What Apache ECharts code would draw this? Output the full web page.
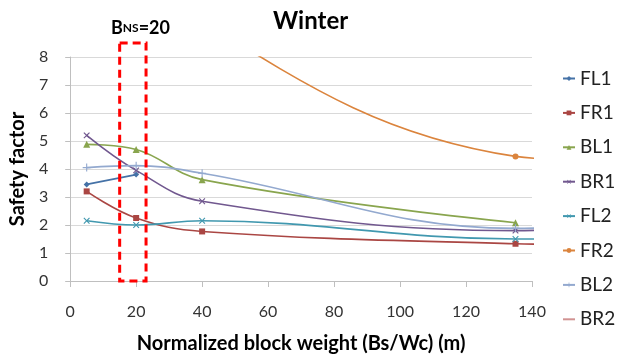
<!DOCTYPE html>
<html><head><meta charset="utf-8">
<script src="https://cdn.jsdelivr.net/npm/echarts@6/dist/echarts.min.js"></script>
<style>html,body{margin:0;padding:0;background:#fff}#c{width:621px;height:359px}</style>
</head><body><div id="c"></div>
<script>
var xValues = [5, 20, 40, 135, 150];
var FL1 = [3.45, 3.8, null, null, null];
var FR1 = [3.2, 2.25, 1.77, 1.33, 1.31];
var BL1 = [4.88, 4.7, 3.62, 2.08, null];
var BR1 = [5.2, 3.95, 2.85, 1.8, 1.84];
var FL2 = [2.15, 2.0, 2.15, 1.5, 1.5];
var FR2 = [17, 13, 9.3, 4.45, 4.35];
var BL2 = [4.05, 4.12, 3.85, 1.88, 1.93];
var BR2 = [null, null, null, null, null];
var seriesNames = ['FL1','FR1','BL1','BR1','FL2','FR2','BL2','BR2'];
var bnsBox = [15, 23, 0, 8.5]; // x0, x1, y0, y1 in data units

var FONT = 'Lato';
var colors = ['#4572A7','#AA4643','#89A54E','#71588F','#4198AF','#DB843D','#93A9CF','#D19392'];
var plusPath = 'path://M4.3,0H5.7V4.3H10V5.7H5.7V10H4.3V5.7H0V4.3H4.3Z';
var symbols = ['diamond','rect','triangle',plusPath,plusPath,'circle',plusPath,'circle'];
var rot = [0,0,0,45,45,0,0,0];
var sizes = [6,6,7,8,8,6,8,0];
var all = [FL1,FR1,BL1,BR1,FL2,FR2,BL2,BR2];

function pairs(arr){ var out=[]; for(var i=0;i<xValues.length;i++){ if(arr[i]!==null) out.push([xValues[i],arr[i]]);} return out; }

var series = seriesNames.map(function(n,i){
  return {name:n, type:'line', data:pairs(all[i]), smooth:0.4, clip:true,
    symbol:symbols[i], symbolSize:sizes[i], symbolRotate:rot[i], showSymbol:true,
    lineStyle:{width:1.6,color:colors[i]},
    itemStyle:{color: n==='BR2' ? 'rgba(0,0,0,0)' : colors[i]}};
});

var chart = echarts.init(document.getElementById('c'));
chart.setOption({
  animation:false,
  color:colors,
  title:[
    {text:'Winter', left:268, top:4, textStyle:{fontFamily:FONT,fontSize:24,fontWeight:'bold',color:'#000'}},
    {text:'{a|B}{b|NS}{a|=20}', left:106, top:14, textStyle:{rich:{
      a:{fontFamily:FONT,fontSize:18,fontWeight:'bold',color:'#000'},
      b:{fontFamily:FONT,fontSize:12,fontWeight:'bold',color:'#000'}}}}
  ],
  legend:{orient:'vertical', left:557, top:64, itemWidth:12, itemHeight:6, itemGap:15.4,
    textStyle:{fontFamily:FONT,fontSize:19,color:'#222'},
    data:seriesNames},
  grid:{left:68,right:89,top:57,bottom:78},
  xAxis:{type:'value',min:0,max:140,interval:20,
    name:'Normalized block weight (Bs/Wc) (m)',nameLocation:'middle',nameGap:53,
    nameTextStyle:{fontFamily:FONT,fontSize:20,fontWeight:'bold',color:'#000'},
    axisLine:{lineStyle:{color:'#bfbfbf',width:1}},
    axisTick:{show:true,length:6,lineStyle:{color:'#bfbfbf'}},
    axisLabel:{fontFamily:FONT,fontSize:16,color:'#333',margin:23},
    splitLine:{show:false}},
  yAxis:{type:'value',min:0,max:8,interval:1,
    name:'Safety factor',nameLocation:'middle',nameGap:35,
    nameTextStyle:{fontFamily:FONT,fontSize:20,fontWeight:'bold',color:'#000'},
    axisLine:{show:true,lineStyle:{color:'#bfbfbf',width:1}},
    axisTick:{show:true,length:5,lineStyle:{color:'#bfbfbf'}},
    axisLabel:{fontFamily:FONT,fontSize:16,color:'#333',margin:22},
    splitLine:{lineStyle:{color:'#d9d9d9',width:1}}},
  series:series
});
var p0 = chart.convertToPixel({gridIndex:0},[bnsBox[0],bnsBox[2]]);
var p1 = chart.convertToPixel({gridIndex:0},[bnsBox[1],bnsBox[3]]);
chart.setOption({graphic:[{type:'rect',z:100,
  shape:{x:p0[0],y:p1[1],width:p1[0]-p0[0],height:p0[1]-p1[1]},
  style:{fill:'none',stroke:'#ff0000',lineWidth:3,lineDash:[8,5]}}]});
</script></body></html>
